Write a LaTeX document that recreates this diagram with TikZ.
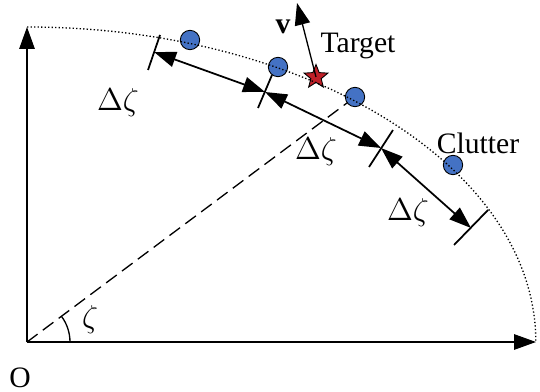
\documentclass[tikz,border=0pt]{standalone}
\usepackage{fontspec}
\setmainfont{Liberation Serif}
\usepackage{tikz}
\usetikzlibrary{shapes.geometric, arrows.meta, positioning, calc}

\definecolor{clutterblue}{RGB}{68,114,196}
\definecolor{targetred}{RGB}{192,32,40}

\begin{document}
\begin{tikzpicture}[
        x=0.016cm, y=0.016cm,
        font=\fontsize{13.5}{16}\selectfont,
        % Define styles for the repeated elements
        clutter/.style={
            circle,
            draw=black,
            fill=clutterblue,
            minimum size=0.31cm,
            inner sep=0pt
        },
        target/.style={
            star,
            star points=5,
            star point ratio=2.3,
            draw=black,
            fill=targetred,
            minimum size=0.40cm,
            inner sep=0pt
        },
        axis/.style={
            -{Triangle[length=10pt, width=7pt]},
            line width=0.8pt
        },
        spacing/.style={
            {Triangle[length=10pt, width=7pt]}-{Triangle[length=10pt, width=7pt]},
            line width=0.8pt
        },
        tick/.style={
            line width=0.8pt
        }
    ]
    \useasboundingbox (0,0) rectangle (540,391);

    % Origin and axes
    \coordinate (O) at (27,49);
    \coordinate (xend) at (536,49);
    \coordinate (yend) at (27,364);
    \draw [axis] (O) -- (xend);
    \draw [axis] (O) -- (yend);

    % Dashed line of sight and angle
    \coordinate (los) at (355,294);
    \draw [line width=0.6pt, dash pattern=on 6pt off 3pt] (O) -- (los);
    \draw [line width=0.6pt] ($(O)+(0.688cm,0)$) arc[start angle=0, end angle=36.8, radius=0.688cm];

    % Draw the Nodes
    \node (c1) [clutter] at (190,351) {};
    \node (c2) [clutter] at (278,324) {};
    \node (c3) [clutter] at (355,294) {};
    \node (c4) [clutter] at (453,226) {};
    \node (tgt) [target] at (316,314) {};

    % Dotted circle of constant range
    \draw [densely dotted, line width=0.6pt] (yend) arc[start angle=90, end angle=0, x radius=8.144cm, y radius=5.04cm];

    % Velocity vector
    \coordinate (vtip) at (297,388);
    \draw [axis, line width=0.6pt] (tgt.center) -- (vtip);

    % Ticks between the range cells
    \coordinate (t1) at (154,339);
    \coordinate (t2) at (265,299);
    \coordinate (t3) at (381,243);
    \coordinate (t4) at (471,163);
    \draw [tick] (160,356) -- (148,321);
    \draw [tick] (272,316) -- (258,283);
    \draw [tick] (393,261) -- (369,224);
    \draw [tick] (488,181) -- (454,146);

    % Draw the connecting arrows
    \draw [spacing] (t1) -- (t2);
    \draw [spacing] (t2) -- (t3);
    \draw [spacing] (t3) -- (t4);

    % Labels
    \node (d1) at (118,288) {$\Delta\zeta$};
    \node (d2) at (316,239) {$\Delta\zeta$};
    \node (d3) at (408,178) {$\Delta\zeta$};
    \node (tlabel) at (358,345) {Target};
    \node (vlabel) at (283,364) {$\mathbf{v}$};
    \node (clabel) at (478,248) {Clutter};
    \node (olabel) at (20,13) {O};
    \node (zlabel) at (90,71) {$\zeta$};

\end{tikzpicture}
\end{document}
